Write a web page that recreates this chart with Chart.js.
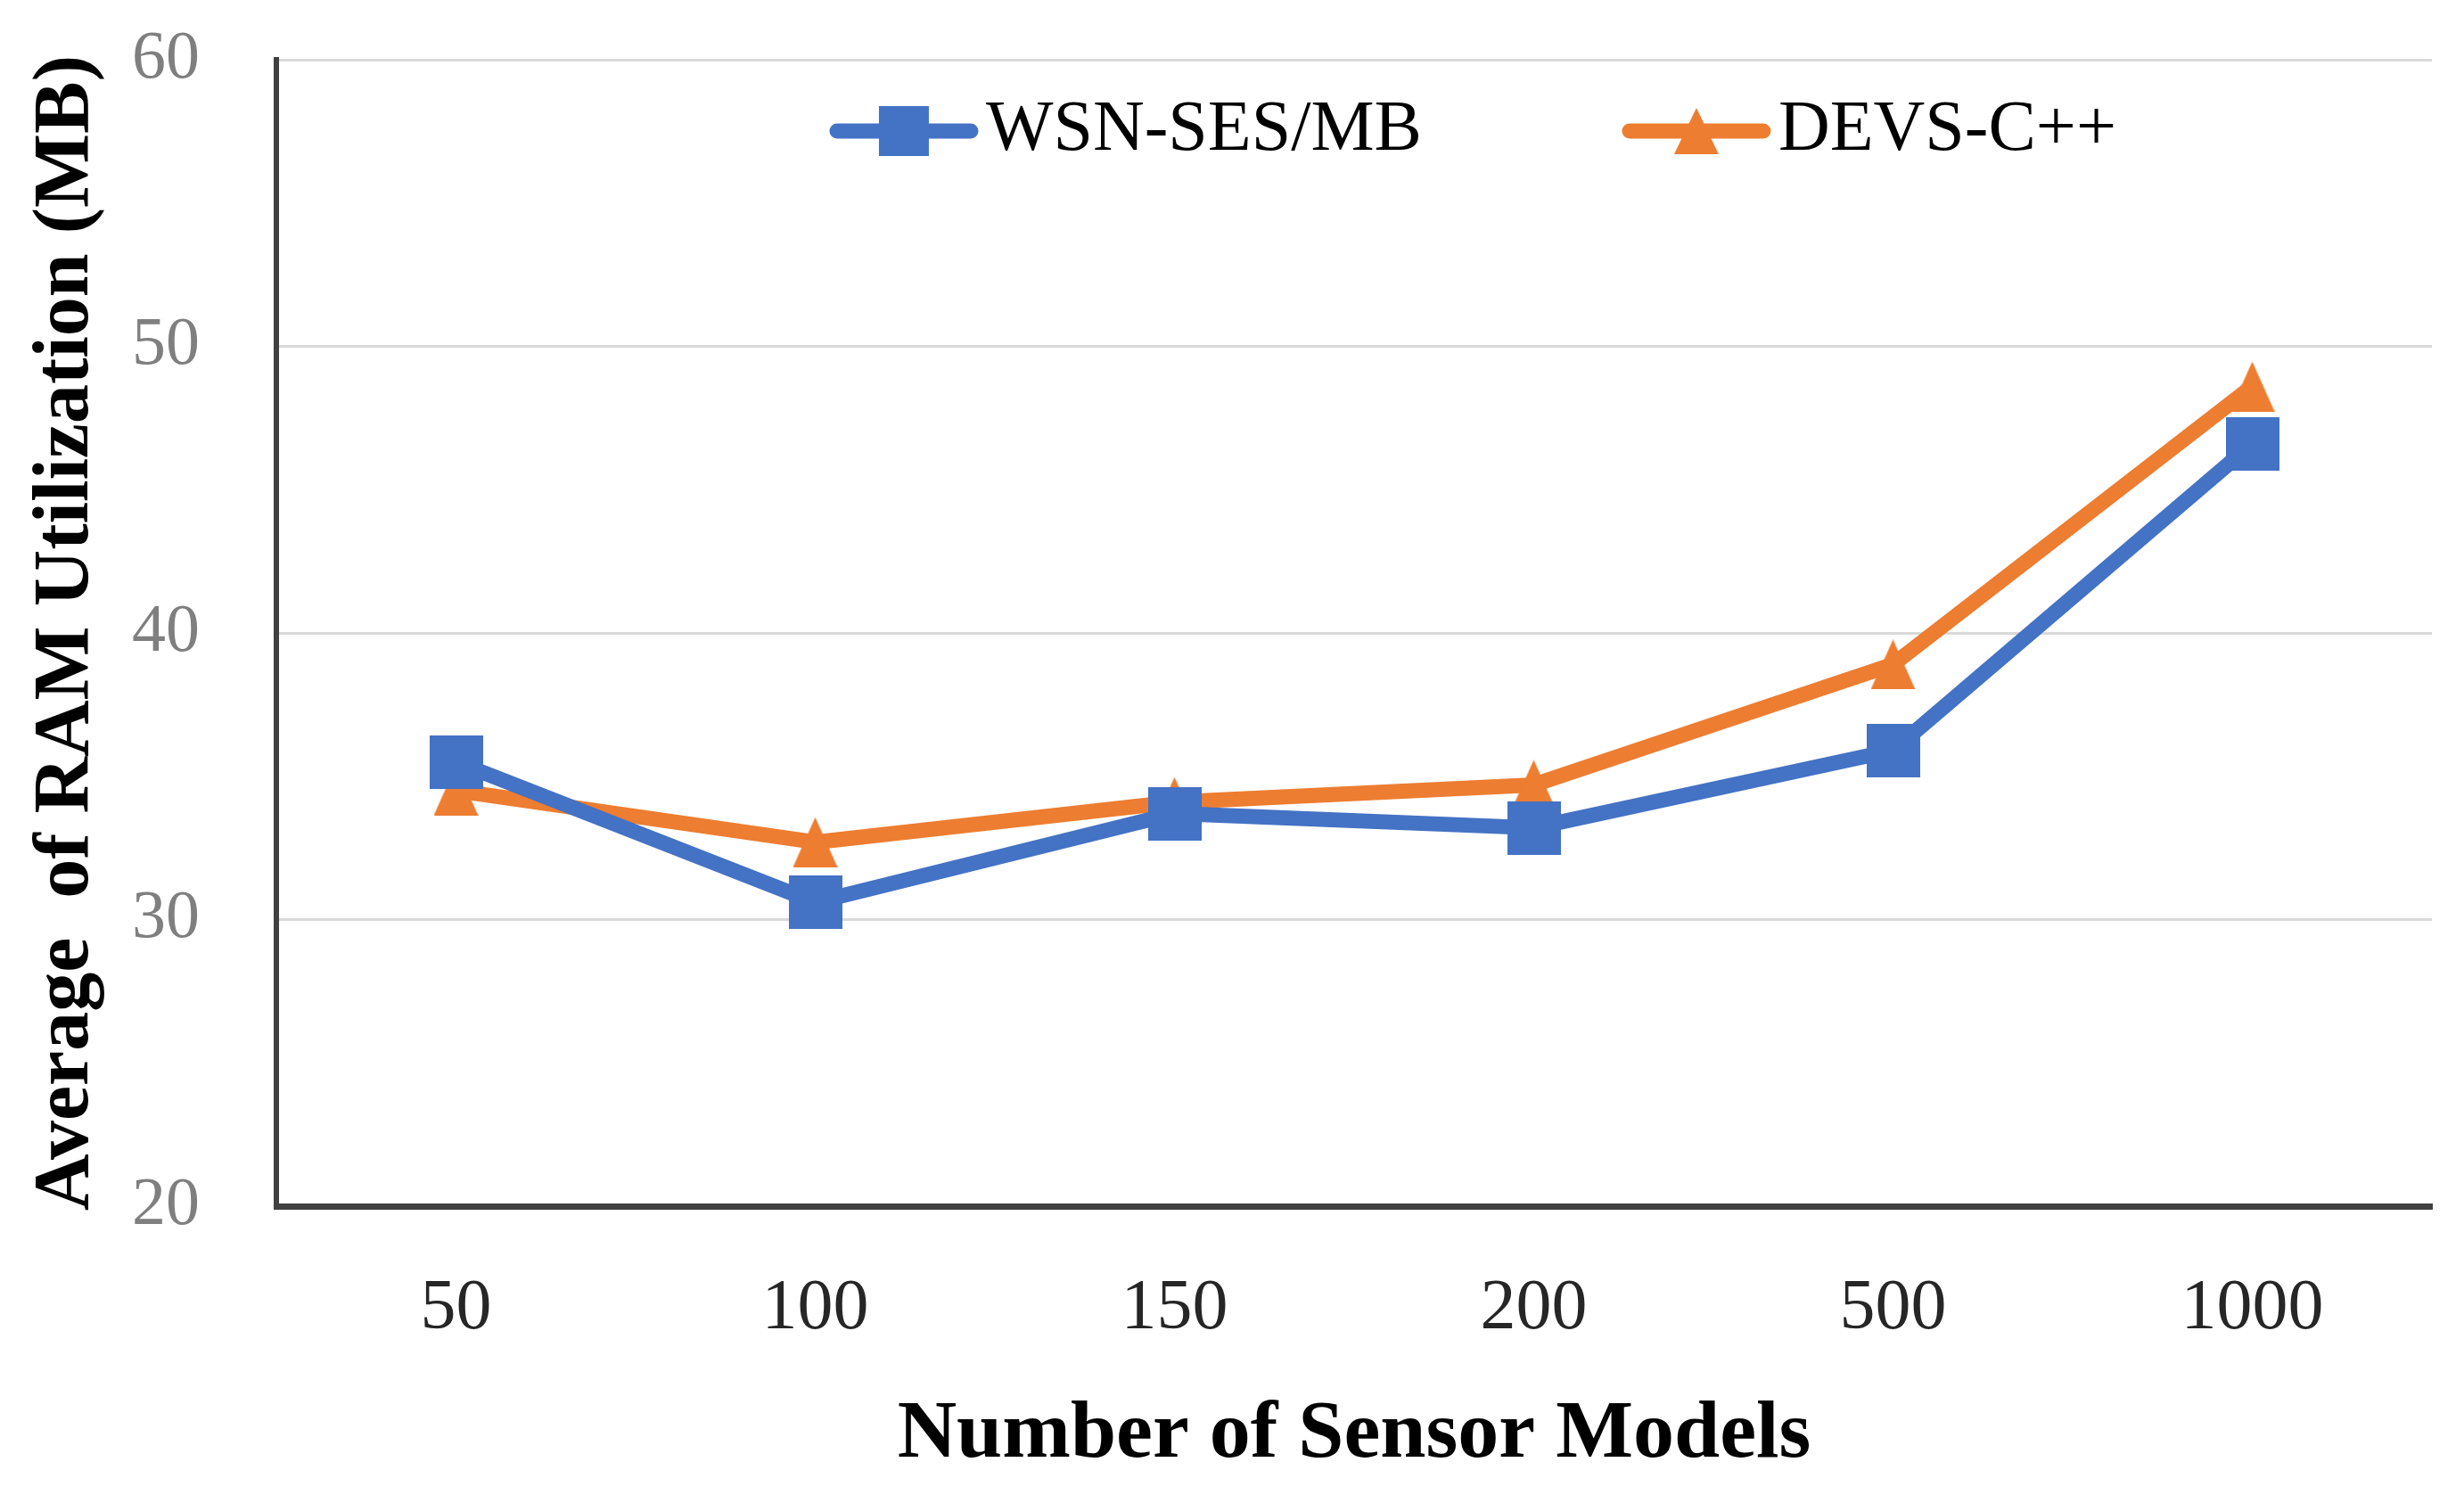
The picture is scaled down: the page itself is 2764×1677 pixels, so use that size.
<!DOCTYPE html>
<html>
<head>
<meta charset="utf-8">
<script src="https://cdn.jsdelivr.net/npm/chart.js@4.4.1/dist/chart.umd.min.js"></script>
<style>
  html, body { margin: 0; padding: 0; background: #fff; }
</style>
</head>
<body>
<canvas id="ramChart" width="2764" height="1677"></canvas>
<script>
// values
const sensorModels = ['50', '100', '150', '200', '500', '1000'];
const wsnSesMb = [35.5, 30.6, 33.7, 33.2, 35.9, 46.6];
const devsCpp = [34.5, 32.7, 34.1, 34.7, 38.9, 48.6];
const yTicks = [20, 30, 40, 50, 60];

const blue = '#4472C4';
const orange = '#ED7D31';

Chart.defaults.font.family = "'Liberation Serif', 'DejaVu Serif', serif";

function squareMarker(size, color) {
    const c = document.createElement('canvas');
    c.width = size; c.height = size;
    const g = c.getContext('2d');
    g.fillStyle = color;
    g.fillRect(0, 0, size, size);
    return c;
}

function triangleMarker(w, h, color) {
    const c = document.createElement('canvas');
    c.width = w; c.height = h;
    const g = c.getContext('2d');
    g.fillStyle = color;
    g.beginPath();
    g.moveTo(w / 2, 0);
    g.lineTo(w, h);
    g.lineTo(0, h);
    g.closePath();
    g.fill();
    return c;
}

// legend swatch: line with the marker on it, line sits at the right of the image
function legendSwatch(marker, color) {
    const c = document.createElement('canvas');
    c.width = 384; c.height = 66;
    const g = c.getContext('2d');
    g.strokeStyle = color;
    g.lineWidth = 17;
    g.lineCap = 'round';
    g.beginPath();
    g.moveTo(384 - 168 + 9, 33);
    g.lineTo(384 - 9, 33);
    g.stroke();
    g.drawImage(marker, 384 - 84 - marker.width / 2, 33 - marker.height / 2);
    return c;
}

const squareImg = squareMarker(60, blue);
const triangleImg = triangleMarker(50, 56, orange);
const swatches = [legendSwatch(squareMarker(56, blue), blue), legendSwatch(triangleMarker(50, 52, orange), orange)];

// move the legend down into the plot area
const legendInPlot = {
    id: 'legendInPlot',
    afterLayout(chart) {
        const lg = chart.legend;
        const area = chart.chartArea;
        lg.top = area.top;
        lg.bottom = area.top + 200;
        lg.height = 200;
        lg.left += 196;
        lg.right += 196;
    }
};

const ctx = document.getElementById('ramChart').getContext('2d');

new Chart(ctx, {
    type: 'line',
    data: {
        labels: sensorModels,
        datasets: [{
            label: 'WSN-SES/MB',
            data: wsnSesMb,
            borderColor: blue,
            backgroundColor: blue,
            borderWidth: 17,
            borderCapStyle: 'round',
            borderJoinStyle: 'round',
            pointStyle: squareImg,
            tension: 0,
            fill: false
        }, {
            label: 'DEVS-C++',
            data: devsCpp,
            borderColor: orange,
            backgroundColor: orange,
            borderWidth: 17,
            borderCapStyle: 'round',
            borderJoinStyle: 'round',
            pointStyle: triangleImg,
            tension: 0,
            fill: false
        }]
    },
    options: {
        responsive: false,
        animation: false,
        devicePixelRatio: 1,
        layout: {
            padding: { top: 66, right: 36, bottom: 0, left: 0 }
        },
        plugins: {
            tooltip: { enabled: false },
            legend: {
                position: 'top',
                maxHeight: 1,
                labels: {
                    usePointStyle: true,
                    pointStyleWidth: 320,
                    padding: 40,
                    color: '#000',
                    font: { size: 80 },
                    generateLabels: chart =>
                        Chart.defaults.plugins.legend.labels.generateLabels(chart)
                            .map((item, i) => Object.assign(item, { pointStyle: swatches[i] }))
                }
            }
        },
        scales: {
            x: {
                offset: true,
                grid: { display: false, drawTicks: false },
                border: { display: true, color: '#404040', width: 7 },
                ticks: { color: '#262626', font: { size: 80 }, padding: 68 },
                title: {
                    display: true,
                    text: 'Number of Sensor Models',
                    color: '#000',
                    font: { size: 92, weight: 'bold' },
                    padding: { top: 0, bottom: 12 }
                },
                afterFit: scale => { scale.height = 324; }
            },
            y: {
                min: 20,
                max: 60,
                afterBuildTicks: scale => { scale.ticks = yTicks.map(v => ({ value: v })); },
                grid: { color: '#d9d9d9', lineWidth: 3, drawTicks: false },
                border: { display: true, color: '#404040', width: 6 },
                ticks: { color: '#7f7f7f', font: { size: 76 }, padding: 86 },
                title: {
                    display: true,
                    text: 'Average  of RAM Utilization (MB)',
                    color: '#000',
                    font: { size: 88, weight: 'bold' },
                    padding: { top: 22, bottom: 0 }
                },
                afterFit: scale => {
                    scale.width = 310;
                    // tick padding should not push the plot down
                    scale.paddingTop = 0;
                    scale.paddingBottom = 0;
                }
            }
        }
    },
    plugins: [legendInPlot]
});
</script>
</body>
</html>
